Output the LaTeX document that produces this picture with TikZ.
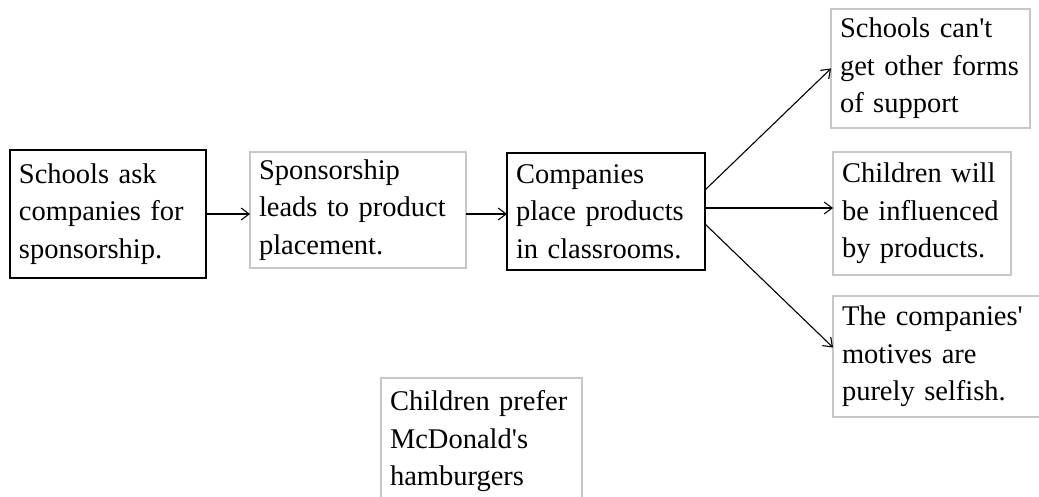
\documentclass[tikz,border=0pt]{standalone}
\usepackage{fontspec}
\setmainfont{Liberation Serif}
\usepackage{tikz}
\usetikzlibrary{arrows.meta,positioning}
\newcommand{\boxfont}{\fontsize{28.5}{37.5}\selectfont\hyphenpenalty=10000\relax\hfuzz=6pt\relax}

\begin{document}
\begin{tikzpicture}[x=1pt, y=1pt, -{Straight Barb[length=8pt,width=12pt]}, line width=1.1pt]
\tikzstyle{box} = [draw, rectangle, outer sep=0pt, inner xsep=9pt, align=left, anchor=center, font=\boxfont]
\tikzstyle{blackbox} = [box, draw=black, line width=1.4pt]
\tikzstyle{greybox} = [box, draw=black!22, line width=1.5pt]
\useasboundingbox (0,0) rectangle (1039,-497);
\clip (0,0) rectangle (1039,-497);
\node (1) [blackbox, anchor=north west, minimum width=196pt, text width=178pt, minimum height=128pt]
  at (10,-150) {Schools ask\\companies for\\sponsorship.};
\node (2) [greybox, right=44pt of 1, yshift=4pt, minimum width=216pt, text width=198pt, minimum height=116pt]
  {Sponsorship\\leads to product\\placement.};
\node (3) [blackbox, right=41pt of 2, yshift=-1.5pt, minimum width=198pt, text width=180pt, minimum height=117pt]
  {Companies\\place~products\\in~classrooms.};
\node (5) [greybox, right=128pt of 3, yshift=-2pt, minimum width=178pt, text width=160pt, minimum height=123pt]
  {Children~will\\be~influenced\\by products.};
\node (4) [greybox, above=24pt of 5.north west, anchor=south west, xshift=-2pt, minimum width=199pt, text width=181pt, minimum height=119pt]
  {Schools can\textquotesingle t\\get~other~forms\\of support};
\node (6) [greybox, below=21pt of 5.south west, anchor=north west, minimum width=215pt, text width=197pt, minimum height=121pt]
  {The~companies\textquotesingle\\motives are\\purely selfish.};
\node (7) [greybox, anchor=north west, minimum width=201pt, text width=183pt, minimum height=127pt]
  at (381,-378) {Children~prefer\\McDonald\textquotesingle s\\hamburgers};
\draw (1.east) -- (1.east -| 2.west);
\draw (2.east |- 1.east) -- (3.west |- 1.east);
\draw ([yshift=21.5pt]3.east) -- (4.west);
\draw ([yshift=3.5pt]3.east) -- ([yshift=5.5pt]5.west);
\draw ([yshift=-12.5pt]3.east) -- ([yshift=9pt]6.west);
\end{tikzpicture}
\end{document}
